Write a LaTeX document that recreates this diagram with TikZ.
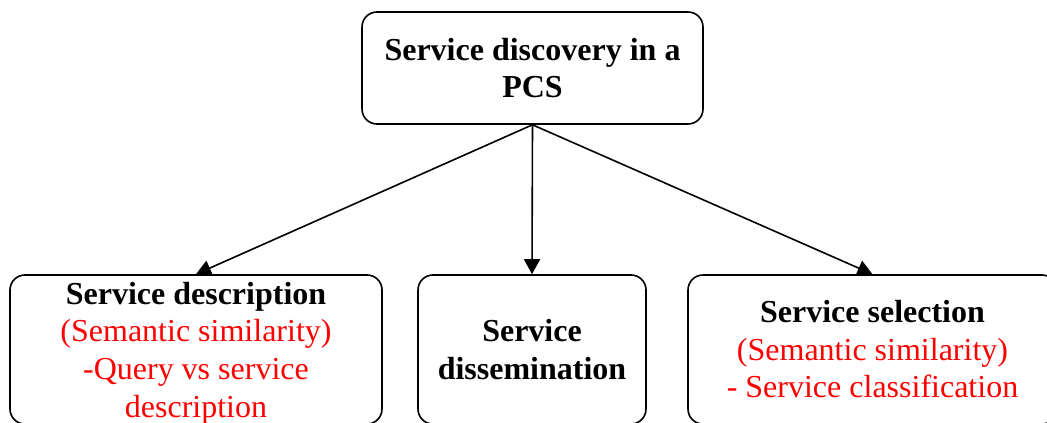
\documentclass[tikz,border=0pt]{standalone}
\usepackage{fontspec}
\setmainfont{Liberation Serif}
\usetikzlibrary{arrows.meta}
\begin{document}
\begin{tikzpicture}[x=1pt,y=1pt,
  box/.style={draw, line width=1.6pt, rounded corners=15pt, inner sep=0pt, align=center,
    font=\fontsize{32}{37.5}\selectfont},
  boxtext/.style={inner sep=0pt, align=center, font=\fontsize{32}{37.8}\selectfont},
  conn/.style={line width=1.6pt, -{Triangle[length=15pt,width=16pt]}}]
\useasboundingbox (0,0) rectangle (1047,-423);
\clip (0,0) rectangle (1047,-423);
\fill[white] (0,0) rectangle (1047,-423);
\node[box, minimum width=341pt, minimum height=112pt] (top) at (532.5,-68)
  {\textbf{Service discovery in a}\\\textbf{PCS}};
\node[box, minimum width=372pt, minimum height=149pt] (desc) at (196,-349.5) {};
\node[boxtext] (desctext) at ([yshift=-3.5pt]desc.center)
  {\textbf{Service description}\\\textcolor{red}{(Semantic similarity)}\\\textcolor{red}{-Query vs service}\\\textcolor{red}{description}};
\node[box, minimum width=228pt, minimum height=149pt] (diss) at (532,-349.5)
  {\textbf{Service}\\\textbf{dissemination}};
\node[box, minimum width=369pt, minimum height=149pt] (sel) at (872.5,-349.5)
  {\textbf{Service selection}\\\textcolor{red}{(Semantic similarity)}\\\textcolor{red}{- Service classification}};
\draw[conn] (top.south) -- (desc.north);
\draw[conn] (top.south) -- (diss.north);
\draw[conn] (top.south) -- (sel.north);
\end{tikzpicture}
\end{document}
